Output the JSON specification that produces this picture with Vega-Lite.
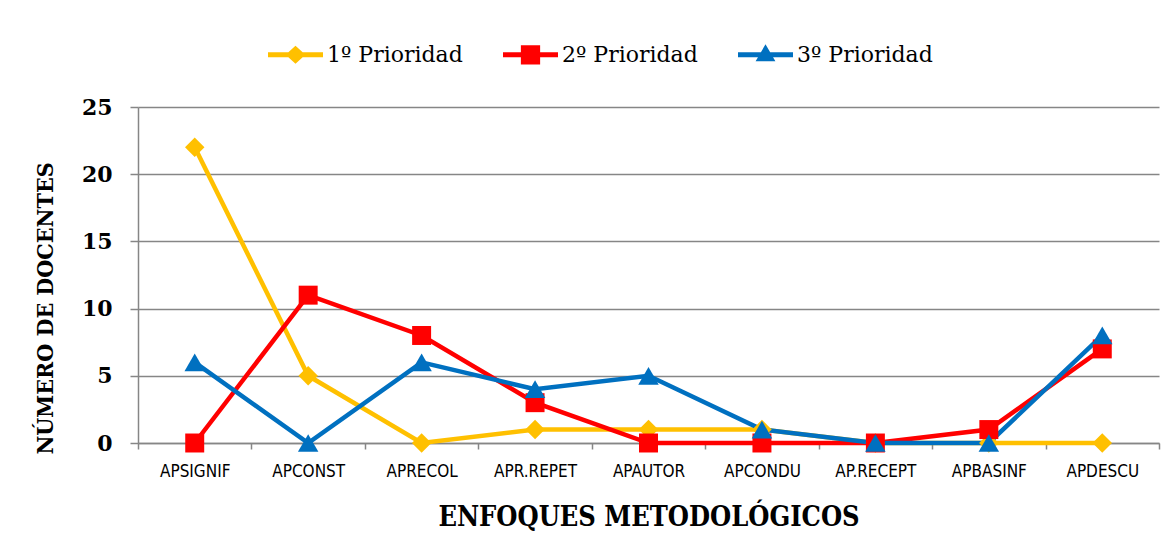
{
  "$schema": "https://vega.github.io/schema/vega-lite/v6.json",
  "autosize": {"type": "none"},
  "padding": {"left": 138, "top": 107, "right": 17, "bottom": 116},
  "width": 1021,
  "height": 336,
  "background": "white",
  "config": {"view": {"stroke": null}},
  "data": {"values": [
    {"cat": "APSIGNIF", "serie": "1º Prioridad", "v": 22},
    {"cat": "APCONST", "serie": "1º Prioridad", "v": 5},
    {"cat": "APRECOL", "serie": "1º Prioridad", "v": 0},
    {"cat": "APR.REPET", "serie": "1º Prioridad", "v": 1},
    {"cat": "APAUTOR", "serie": "1º Prioridad", "v": 1},
    {"cat": "APCONDU", "serie": "1º Prioridad", "v": 1},
    {"cat": "AP.RECEPT", "serie": "1º Prioridad", "v": 0},
    {"cat": "APBASINF", "serie": "1º Prioridad", "v": 0},
    {"cat": "APDESCU", "serie": "1º Prioridad", "v": 0},
    {"cat": "APSIGNIF", "serie": "2º Prioridad", "v": 0},
    {"cat": "APCONST", "serie": "2º Prioridad", "v": 11},
    {"cat": "APRECOL", "serie": "2º Prioridad", "v": 8},
    {"cat": "APR.REPET", "serie": "2º Prioridad", "v": 3},
    {"cat": "APAUTOR", "serie": "2º Prioridad", "v": 0},
    {"cat": "APCONDU", "serie": "2º Prioridad", "v": 0},
    {"cat": "AP.RECEPT", "serie": "2º Prioridad", "v": 0},
    {"cat": "APBASINF", "serie": "2º Prioridad", "v": 1},
    {"cat": "APDESCU", "serie": "2º Prioridad", "v": 7},
    {"cat": "APSIGNIF", "serie": "3º Prioridad", "v": 6},
    {"cat": "APCONST", "serie": "3º Prioridad", "v": 0},
    {"cat": "APRECOL", "serie": "3º Prioridad", "v": 6},
    {"cat": "APR.REPET", "serie": "3º Prioridad", "v": 4},
    {"cat": "APAUTOR", "serie": "3º Prioridad", "v": 5},
    {"cat": "APCONDU", "serie": "3º Prioridad", "v": 1},
    {"cat": "AP.RECEPT", "serie": "3º Prioridad", "v": 0},
    {"cat": "APBASINF", "serie": "3º Prioridad", "v": 0},
    {"cat": "APDESCU", "serie": "3º Prioridad", "v": 8}
  ]},
  "encoding": {
    "x": {
      "field": "cat", "type": "nominal", "sort": null,
      "scale": {"type": "band", "paddingInner": 0, "paddingOuter": 0},
      "axis": {
        "title": "ENFOQUES METODOLÓGICOS",
        "titleFont": "DejaVu Serif Condensed", "titleFontWeight": "bold", "titleFontSize": 27, "titleColor": "black",
        "titleY": 82, "titleBaseline": "alphabetic",
        "labelAngle": 0, "labelFont": "DejaVu Sans Condensed", "labelFontSize": 17, "labelColor": "black",
        "labelPadding": 14,
        "ticks": true, "tickBand": "extent", "tickSize": 6, "tickColor": "#868686", "tickWidth": 1.5,
        "domainColor": "#868686", "domainWidth": 1.5, "grid": false
      }
    },
    "y": {
      "field": "v", "type": "quantitative",
      "scale": {"domain": [0, 25], "nice": false},
      "axis": {
        "values": [0, 5, 10, 15, 20, 25],
        "title": "NÚMERO DE DOCENTES",
        "titleFont": "DejaVu Serif Condensed", "titleFontWeight": "bold", "titleFontSize": 23, "titleColor": "black",
        "titleX": -86, "titleY": 201, "titleAlign": "center", "titleBaseline": "alphabetic", "titleAngle": -90,
        "labelFont": "DejaVu Serif", "labelFontWeight": "bold", "labelFontSize": 22, "labelColor": "black",
        "labelPadding": 18, "tickSize": 8, "tickColor": "#868686", "tickWidth": 1.5,
        "domainColor": "#868686", "domainWidth": 1.5,
        "grid": true, "gridColor": "#868686", "gridWidth": 1.5
      }
    },
    "color": {"field": "serie", "type": "nominal",
      "scale": {"domain": ["1º Prioridad", "2º Prioridad", "3º Prioridad"], "range": ["#FFC000", "#FF0000", "#0070C0"]},
      "legend": {
        "title": null, "orient": "none", "direction": "horizontal",
        "legendX": 130, "legendY": -80, "padding": 0,
        "symbolSize": 3025, "symbolStrokeWidth": 0,
        "labelFont": "DejaVu Serif", "labelFontSize": 22, "labelColor": "black", "labelOffset": 4,
        "columnPadding": 40, "labelLimit": 300,
        "encode": {"symbols": {"update": {
          "shape": {"signal": "datum.value == '1º Prioridad' ? 'M-1,-0.09L1,-0.09L1,0.09L-1,0.09Z M0,-0.33L0.36,0L0,0.33L-0.36,0Z' : datum.value == '2º Prioridad' ? 'M-1,-0.09L1,-0.09L1,0.09L-1,0.09Z M-0.35,-0.35L0.35,-0.35L0.35,0.35L-0.35,0.35Z' : 'M-1,-0.09L1,-0.09L1,0.09L-1,0.09Z M0,-0.38L0.36,0.24L-0.36,0.24Z'"},
          "fill": {"signal": "scale('color', datum.value)"},
          "stroke": {"value": "transparent"},
          "strokeWidth": {"value": 0},
          "opacity": {"value": 1}
        }}}
      }
    }
  },
  "layer": [
    {
      "mark": {"type": "line", "strokeWidth": 4.5}
    },
    {
      "transform": [{"filter": "datum.serie == '1º Prioridad'"}],
      "mark": {"type": "point", "shape": "diamond", "filled": true, "opacity": 1, "size": 380, "strokeWidth": 0}
    },
    {
      "transform": [{"filter": "datum.serie == '2º Prioridad'"}],
      "mark": {"type": "point", "shape": "square", "filled": true, "opacity": 1, "size": 360, "strokeWidth": 0}
    },
    {
      "transform": [{"filter": "datum.serie == '3º Prioridad'"}],
      "mark": {"type": "point", "shape": "triangle-up", "filled": true, "opacity": 1, "size": 420, "strokeWidth": 0}
    }
  ]
}
